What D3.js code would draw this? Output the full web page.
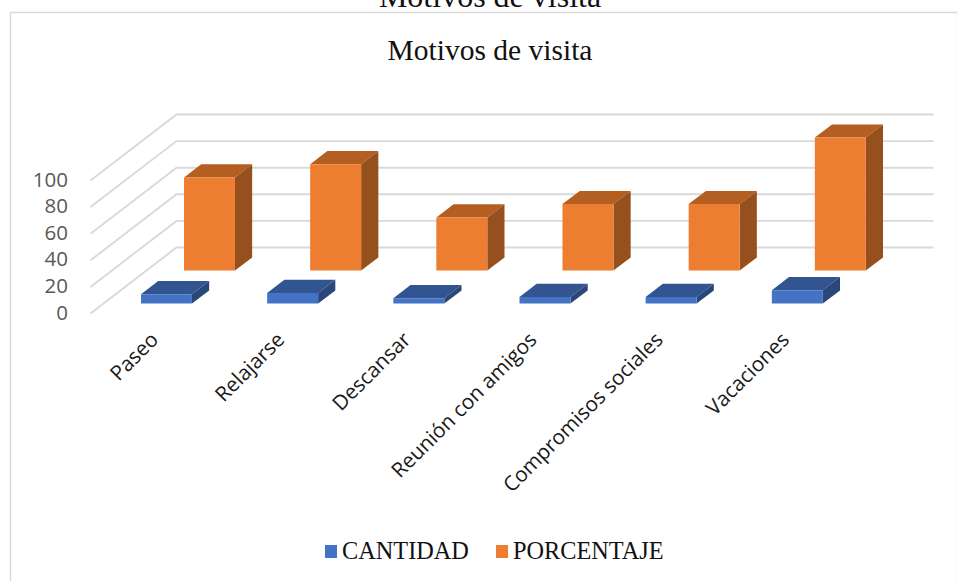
<!DOCTYPE html>
<html><head><meta charset="utf-8">
<script src="https://cdn.jsdelivr.net/npm/d3@7"></script>
<style>html,body{margin:0;padding:0;background:#fff}svg{display:block}</style>
</head><body><div id="c"></div>
<script>
const categories=["Paseo","Relajarse","Descansar","Reunión con amigos","Compromisos sociales","Vacaciones"];
const seriesNames=["CANTIDAD","PORCENTAJE"];
const cantidad=[7,8,4,5,5,10];
const porcentaje=[70,80,40,50,50,100];
const yTicks=[0,20,40,60,80,100];
const chartTitle="Motivos de visita";
const W=957,H=581;
const svg=d3.select("#c").append("svg").attr("width",W).attr("height",H);
const x=d3.scaleBand().domain(categories).range([90.5,847.5]);
const y=d3.scaleLinear().domain([0,100]).range([313.5,180.5]);
const depth=d3.scaleBand().domain(seriesNames).range([0,1]).paddingInner(0.6).paddingOuter(0.3);
const DX=86,DY=-66;
const px=(a,d)=>a+DX*d, py=(b,d)=>b+DY*d;
const serif="'Liberation Serif','Times New Roman',serif", sans="'Open Sans',sans-serif";
svg.append("text").attr("x",490).attr("y",7).attr("text-anchor","middle").attr("font-family",serif).attr("font-size",32).attr("fill","#111").text(chartTitle);
svg.append("rect").attr("x",10.5).attr("y",12.5).attr("width",W-10).attr("height",H).attr("fill","#fff").attr("stroke","#d9d9d9").attr("stroke-width",1.4);
svg.append("text").attr("x",490).attr("y",60).attr("text-anchor","middle").attr("font-family",serif).attr("font-size",29.5).attr("fill","#111").text(chartTitle);
const grid=svg.append("g").attr("fill","none").attr("stroke","#d9d9d9").attr("stroke-width",1.9);
yTicks.forEach(t=>{
 grid.append("path").attr("d",d3.line()([[x.range()[0],y(t)],[px(x.range()[0],1),py(y(t),1)],[px(x.range()[1],1),py(y(t),1)]]));
});
svg.append("g").attr("font-family",sans).attr("font-size",20.5).attr("fill","#595959").attr("text-anchor","end")
 .selectAll("text").data(yTicks).join("text").attr("x",68).attr("y",d=>y(d)+6).text(d=>d);
const colors={CANTIDAD:["#4472c4","#325591","#2a4779"],PORCENTAJE:["#ed7d31","#b55e22","#96501d"]};
const barW=x.bandwidth()*0.404;
const poly=p=>d3.line()(p)+"Z";
const bars=[];
seriesNames.forEach((s,si)=>{const vals=si?porcentaje:cantidad;categories.forEach((c,i)=>bars.push({s,c,v:vals[i]}))});
const g=svg.append("g");
bars.forEach(b=>{
 const x0=x(b.c)+x.bandwidth()/2-barW/2,x1=x0+barW;
 const d0=depth(b.s),d1=d0+depth.bandwidth();
 const yb=y(0),yt=y(b.v);
 const col=colors[b.s];
 const P=(a,h,d)=>[px(a,d),py(h,d)];
 g.append("path").attr("d",poly([P(x0,yt,d0),P(x1,yt,d0),P(x1,yt,d1),P(x0,yt,d1)])).attr("fill",col[1]);
 g.append("path").attr("d",poly([P(x1,yb,d0),P(x1,yb,d1),P(x1,yt,d1),P(x1,yt,d0)])).attr("fill",col[2]);
 g.append("path").attr("d",poly([P(x0,yb,d0),P(x1,yb,d0),P(x1,yt,d0),P(x0,yt,d0)])).attr("fill",col[0]);
});
svg.append("g").attr("font-family",sans).attr("font-size",20.7).attr("fill","#1a1a1a").attr("text-anchor","end")
 .selectAll("text").data(categories).join("text")
 .attr("transform",d=>`translate(${x(d)+x.bandwidth()/2+6},${341}) rotate(-45)`).text(d=>d);
const lg=svg.append("g").attr("font-family",serif).attr("font-size",24.3).attr("fill","#111");
[[325,342],[496,513]].forEach((p,i)=>{
 lg.append("rect").attr("x",p[0]).attr("y",545).attr("width",12).attr("height",13).attr("fill",i?"#ed7d31":"#4472c4");
 lg.append("text").attr("x",p[1]).attr("y",559).text(seriesNames[i]);
});
</script></body></html>
